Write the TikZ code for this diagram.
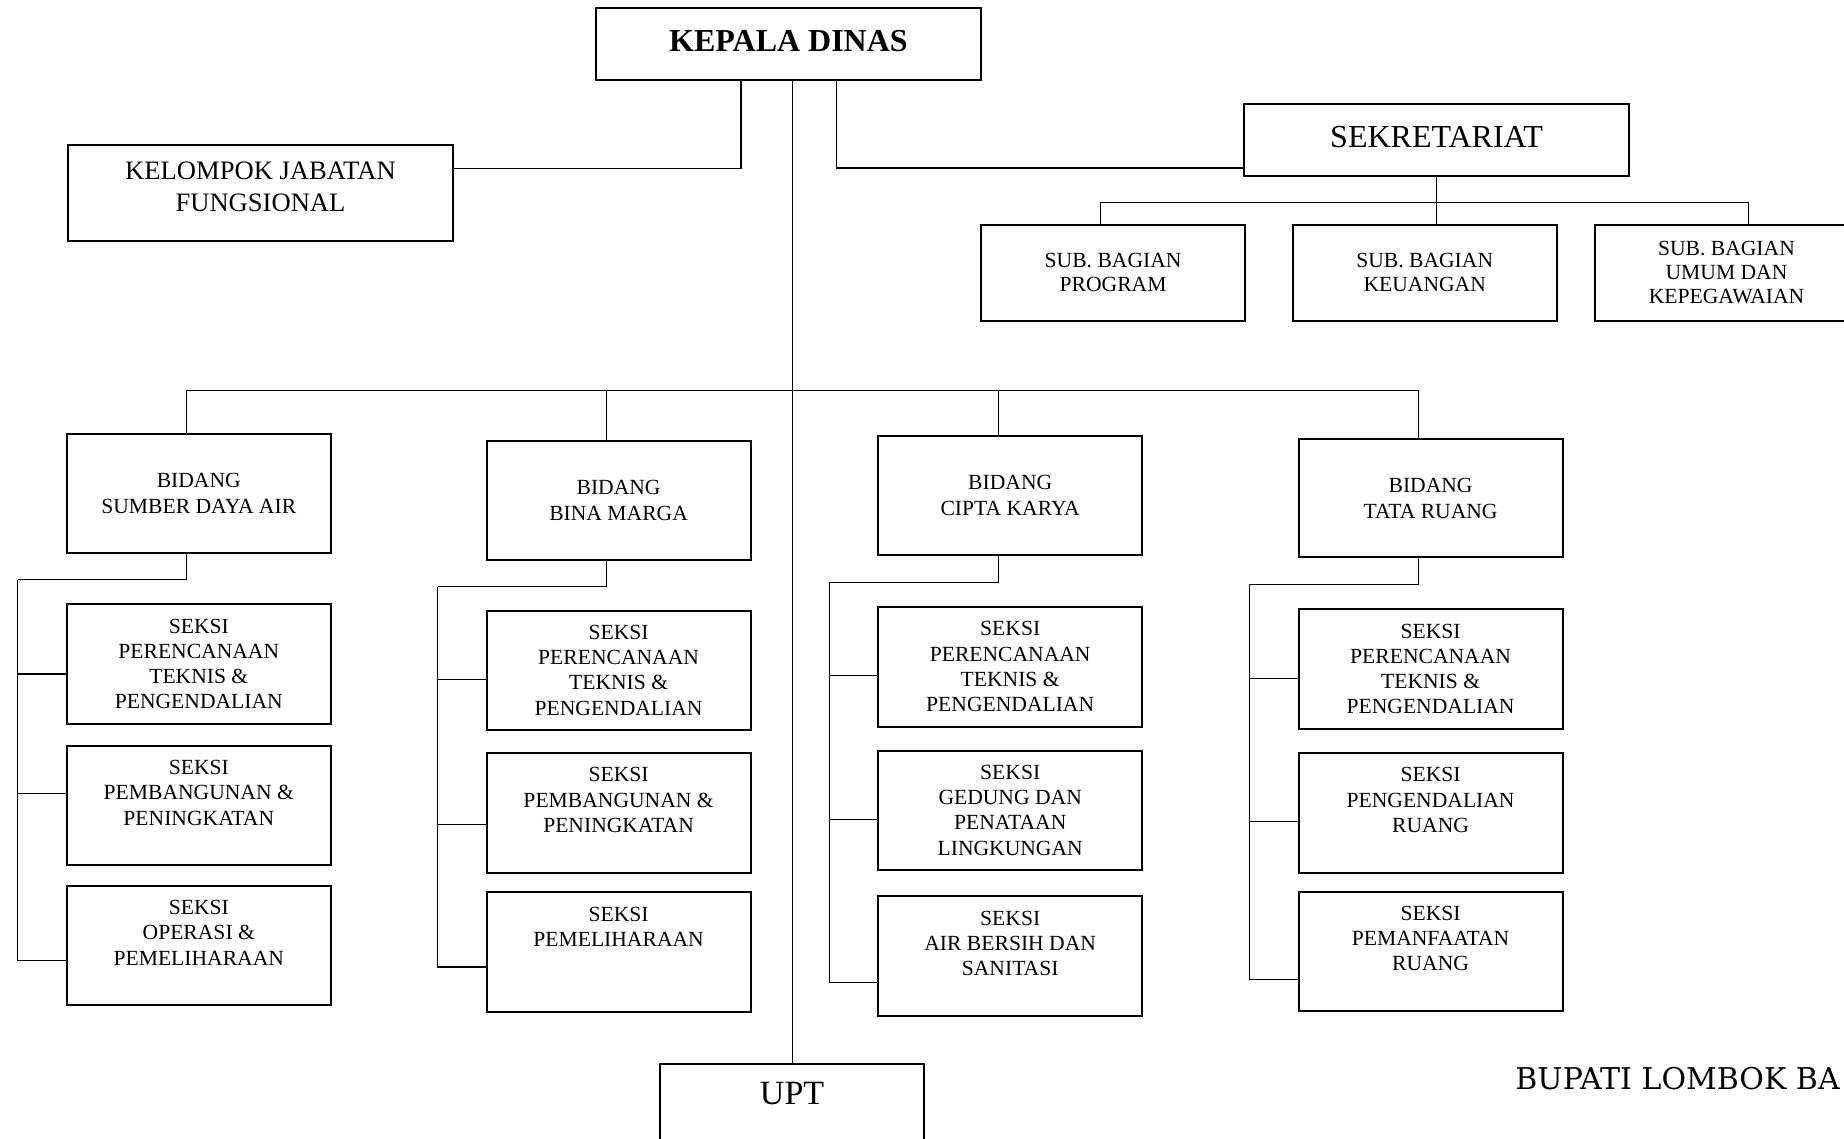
\documentclass[tikz,border=0pt]{standalone}
\usepackage{fontspec}
\setmainfont{Liberation Serif}
\newfontfamily\bupatifont{DejaVu Serif}
\usetikzlibrary{positioning}

\begin{document}
\begin{tikzpicture}
    [%%%%%%%%%%%%%%%%%%%%%%%%%%%%%%
    x=0.5pt, y=-0.5pt,
    box/.style={rectangle,draw=black,line width=1pt,inner sep=0pt,minimum width=132pt,minimum height=59.8pt},
    bigbox/.style={box,minimum width=192.3pt},
    subbox/.style={box,minimum height=48.25pt},
    txt/.style={align=center,inner sep=0pt,font=\fontsize{10.8}{12.6}\selectfont},
    link/.style={line width=0.6pt},
    ]%%%%%%%%%%%%%%%%%%%%%%%%%%%%%%

    \useasboundingbox (0,0) rectangle (1844,1139);
    \clip (0,0) rectangle (1844,1139);

    % kepala dinas
    \node[bigbox,minimum height=35.9pt,text depth=3.5pt,font=\fontsize{16}{19}\selectfont\bfseries] at (788.5,44.1) (kd) {KEPALA DINAS};
    \node[bigbox,txt,minimum height=48.2pt,text depth=6pt,font=\fontsize{13.3}{15.9}\selectfont] at (260.5,192.9) (kjf) {KELOMPOK JABATAN\\FUNGSIONAL};
    \node[bigbox,minimum height=36.45pt,text depth=3.5pt,font=\fontsize{16}{19}\selectfont] at (1436.5,140) (sek) {SEKRETARIAT};

    % sub bagian
    \node[subbox,txt,font=\fontsize{10.8}{12}\selectfont] at (1113.1,272.8) (prog) {SUB. BAGIAN\\PROGRAM};
    \node[subbox,txt,font=\fontsize{10.8}{12}\selectfont] at (1424.7,272.8) (keu) {SUB. BAGIAN\\KEUANGAN};
    \node[subbox,txt,font=\fontsize{10.8}{12}\selectfont] at (1726.5,272.8) (umum) {SUB. BAGIAN\\UMUM DAN\\KEPEGAWAIAN};

    % bidang
    \node[box,txt,minimum height=59.4pt,font=\fontsize{10.8}{13}\selectfont] at (198.8,493.4) (sda) {BIDANG\\SUMBER DAYA AIR};
    \node[box,txt,minimum height=59.4pt,font=\fontsize{10.8}{13}\selectfont] at (618.6,500.4) (bm) {BIDANG\\BINA MARGA};
    \node[box,txt,minimum height=59.4pt,font=\fontsize{10.8}{13}\selectfont] at (1010.2,495.7) (ck) {BIDANG\\CIPTA KARYA};
    \node[box,txt,minimum height=59.4pt,font=\fontsize{10.8}{13}\selectfont] at (1430.6,498.0) (tr) {BIDANG\\TATA RUANG};

    % seksi sumber daya air
    \node[box] at (198.8,663.9) (sda1) {};
    \node[box] at (198.8,805.6) (sda2) {};
    \node[box] at (198.8,945.5) (sda3) {};
    \node[txt,below=7.6pt of sda1.north] (sda1t) {SEKSI\\PERENCANAAN\\TEKNIS \&\\PENGENDALIAN};
    \node[txt,below=7.6pt of sda2.north] (sda2t) {SEKSI\\PEMBANGUNAN \&\\PENINGKATAN};
    \node[txt,below=7.6pt of sda3.north] (sda3t) {SEKSI\\OPERASI \&\\PEMELIHARAAN};

    % seksi bina marga
    \node[box] at (618.6,670.4) (bm1) {};
    \node[box] at (618.6,812.7) (bm2) {};
    \node[box] at (618.6,952.0) (bm3) {};
    \node[txt,below=7.6pt of bm1.north] (bm1t) {SEKSI\\PERENCANAAN\\TEKNIS \&\\PENGENDALIAN};
    \node[txt,below=7.6pt of bm2.north] (bm2t) {SEKSI\\PEMBANGUNAN \&\\PENINGKATAN};
    \node[txt,below=7.6pt of bm3.north] (bm3t) {SEKSI\\PEMELIHARAAN};

    % seksi cipta karya
    \node[box] at (1010.2,666.8) (ck1) {};
    \node[box] at (1010.2,810.3) (ck2) {};
    \node[box] at (1010.2,956.1) (ck3) {};
    \node[txt,below=7.6pt of ck1.north] (ck1t) {SEKSI\\PERENCANAAN\\TEKNIS \&\\PENGENDALIAN};
    \node[txt,below=7.6pt of ck2.north] (ck2t) {SEKSI\\GEDUNG DAN\\PENATAAN\\LINGKUNGAN};
    \node[txt,below=7.6pt of ck3.north] (ck3t) {SEKSI\\AIR BERSIH DAN\\SANITASI};

    % seksi tata ruang
    \node[box] at (1430.6,669.2) (tr1) {};
    \node[box] at (1430.6,812.7) (tr2) {};
    \node[box] at (1430.6,951.4) (tr3) {};
    \node[txt,below=7.6pt of tr1.north] (tr1t) {SEKSI\\PERENCANAAN\\TEKNIS \&\\PENGENDALIAN};
    \node[txt,below=7.6pt of tr2.north] (tr2t) {SEKSI\\PENGENDALIAN\\RUANG};
    \node[txt,below=7.6pt of tr3.north] (tr3t) {SEKSI\\PEMANFAATAN\\RUANG};

    % upt
    \node[box,minimum height=70pt] at (792.1,1134.3) (upt) {};
    \node[inner sep=0pt,below=9.3pt of upt.north,font=\fontsize{17}{20}\selectfont] (uptt) {UPT};

    \node[anchor=base west,inner sep=0pt,font=\bupatifont\fontsize{15}{18}\selectfont] at (1515,1089) (bupati) {BUPATI LOMBOK BA};

    % lines from kepala dinas
    \draw[link] ([xshift=-23.8pt]kd.south) |- ([yshift=12.35pt]kjf.east);
    \draw[link] ([xshift=23.8pt]kd.south) |- ([yshift=-14pt]sek.west);
    \draw[line width=0.5pt] (upt.north |- kd.south) -- (upt.north);

    % sekretariat
    \coordinate (sekbar) at ([yshift=-12.35pt]sek.south);
    \draw[link] (sek.south) -- (sek.south |- keu.north);
    \draw[link] ([xshift=-6.15pt]prog.north) |- (sekbar) -| ([xshift=11.1pt]umum.north);

    % bidang
    \coordinate (bus) at (792.6,390.4);
    \foreach \b in {sda,bm,ck,tr}{
        \coordinate (top\b) at ([xshift=-6pt]\b.north);
        \draw[link] (top\b) -- (top\b |- bus);
        \coordinate (bar\b) at ([xshift=-24pt,yshift=-13pt]\b.south west);
        \draw[link] ([xshift=-6pt]\b.south) |- (bar\b);
    }
    \draw[link] (topsda |- bus) -- (toptr |- bus);

    % seksi
    \foreach \b/\n/\dy in {sda/1/-5,sda/2/6,sda/3/-7.5,bm/1/-4.5,bm/2/-6,bm/3/-7.5,
                           ck/1/-4.5,ck/2/-4.5,ck/3/-13,tr/1/-4.5,tr/2/-4.5,tr/3/-14}
        \draw[link] (bar\b) |- ([yshift=\dy pt]\b\n.west);
\end{tikzpicture}
\end{document}
